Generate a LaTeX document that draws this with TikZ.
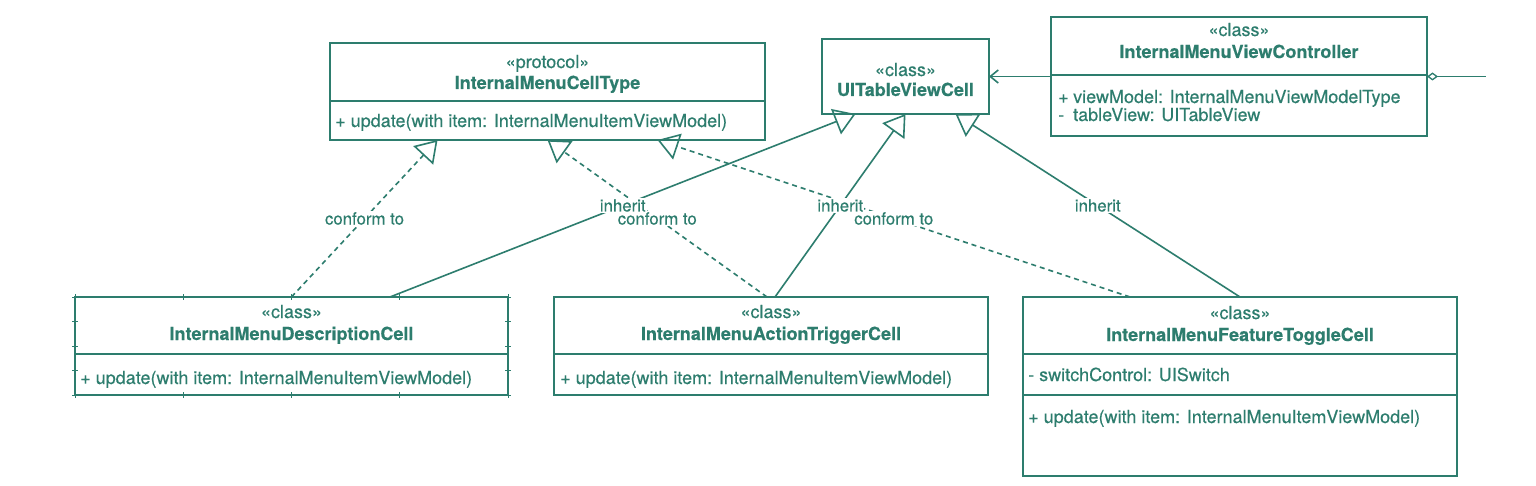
\documentclass[tikz,border=0pt]{standalone}
\usepackage{fontspec}
\setmainfont{TeX Gyre Heros}[FakeBold=0.3]
\usetikzlibrary{arrows.meta}
\definecolor{umlteal}{RGB}{45,125,110}
\tikzset{
  classbox/.style={draw=umlteal, line width=1.9pt, inner sep=0pt, outer sep=0pt},
  stereo/.style={text=umlteal, font=\fontsize{18}{20}\selectfont, inner sep=0pt, anchor=base},
  cname/.style={stereo, font=\fontsize{18}{20}\selectfont\bfseries},
  member/.style={stereo, anchor=base west},
  inherit/.style={draw=umlteal, line width=1.6pt, -{Triangle[open, length=21pt, width=27pt, line width=1.6pt]}},
  conform/.style={inherit, dash pattern=on 5pt off 4pt},
  rel/.style={fill=white, text=umlteal, font=\fontsize{16.8}{18}\selectfont, inner sep=1pt},
}

\begin{document}
\begin{tikzpicture}[x=1pt, y=-1pt]
  %%%%% START %%%%%
  \useasboundingbox[fill=white] (0,0) rectangle (1536,486);

  % class boxes
  \node[classbox, minimum width=435pt, minimum height=97pt] (cellType) at (547.5,91.5) {};
  \node[classbox, minimum width=167pt, minimum height=75pt] (tableCell) at (905.5,76.5) {};
  \node[classbox, minimum width=376pt, minimum height=119pt] (controller) at (1239,76.5) {};
  \node[classbox, minimum width=433pt, minimum height=98pt] (descCell) at (291.5,346) {};
  \node[classbox, minimum width=434pt, minimum height=98pt] (actionCell) at (771,346) {};
  \node[classbox, minimum width=434pt, minimum height=179pt] (toggleCell) at (1240,386.5) {};

  % compartments
  \draw[umlteal, line width=1.3pt] (330,101) -- (765,101);
  \draw[umlteal, line width=1.3pt] (1051,75) -- (1427,75);
  \draw[umlteal, line width=1.3pt] (75,354) -- (508,354);
  \draw[umlteal, line width=1.3pt] (554,354) -- (988,354);
  \draw[umlteal, line width=1.3pt] (1023,354) -- (1457,354);
  \draw[umlteal, line width=1.3pt] (1023,395) -- (1457,395);

  % selection handles
  \foreach \i in {0,...,4} {
    \draw[umlteal, line width=0.9pt] (75+\i*108.25,294) -- ++(0,6);
    \draw[umlteal, line width=0.9pt] (75+\i*108.25,392) -- ++(0,6);
    \draw[umlteal, line width=0.9pt] (72,297+\i*24.5) -- ++(6,0);
    \draw[umlteal, line width=0.9pt] (505,297+\i*24.5) -- ++(6,0);
  }

  % texts
  \node[stereo] (cellTypeS) at (547.5,68) {«protocol»};
  \node[cname] (cellTypeN) at (547.5,89) {InternalMenuCellType};
  \node[member] (cellTypeM) at (335,127) {+ update(with item: InternalMenuItemViewModel)};

  \node[stereo] (tableCellS) at (905.5,76) {«class»};
  \node[cname] (tableCellN) at (905.5,96) {UITableViewCell};

  \node[stereo] (controllerS) at (1239,36) {«class»};
  \node[cname] (controllerN) at (1239,58) {InternalMenuViewController};
  \node[member] (controllerA) at (1058,103) {\makebox[15pt][l]{+}viewModel: InternalMenuViewModelType};
  \node[member] (controllerB) at (1058,121) {\makebox[15pt][l]{-}tableView: UITableView};

  \node[stereo] (descCellS) at (291.5,318) {«class»};
  \node[cname] (descCellN) at (291.5,340) {InternalMenuDescriptionCell};
  \node[member] (descCellM) at (80,384) {+ update(with item: InternalMenuItemViewModel)};

  \node[stereo] (actionCellS) at (771,318) {«class»};
  \node[cname] (actionCellN) at (771,340) {InternalMenuActionTriggerCell};
  \node[member] (actionCellM) at (560,384) {+ update(with item: InternalMenuItemViewModel)};

  \node[stereo] (toggleCellS) at (1240,319) {«class»};
  \node[cname] (toggleCellN) at (1240,341) {InternalMenuFeatureToggleCell};
  \node[member] (toggleCellA) at (1028,381) {- switchControl: UISwitch};
  \node[member] (toggleCellM) at (1028,423) {+ update(with item: InternalMenuItemViewModel)};

  % conform to
  \draw[conform] (descCell.north) -- node[rel, midway] (conf1) {conform to} ([xshift=-110pt]cellType.south);
  \draw[conform] ([xshift=-4pt]actionCell.north) -- node[rel, midway] (conf2) {conform to} (cellType.south);
  \draw[conform] ([xshift=-110pt]toggleCell.north) -- node[rel, midway] (conf3) {conform to} ([xshift=110pt]cellType.south);

  % inherit
  \draw[inherit] ([xshift=98.5pt]descCell.north) -- node[rel, midway] (inh1) {inherit} ([xshift=-50pt]tableCell.south);
  \draw[inherit] ([xshift=4pt]actionCell.north) -- node[rel, midway] (inh2) {inherit} (tableCell.south);
  \draw[inherit] (toggleCell.north) -- node[rel, midway] (inh3) {inherit} ([xshift=50pt]tableCell.south);

  % controller links
  \draw[umlteal, line width=1.6pt, -{Straight Barb[length=8pt, width=13pt, line width=1.6pt]}] (controller.west) -- (tableCell.east);
  \coordinate (tableOut) at (1486,76.5);
  \draw[umlteal, line width=1.6pt, {Diamond[open, length=11pt, width=8pt, line width=1.3pt]}-] (controller.east) -- (tableOut);
  %%%%% END %%%%%
\end{tikzpicture}
\end{document}
